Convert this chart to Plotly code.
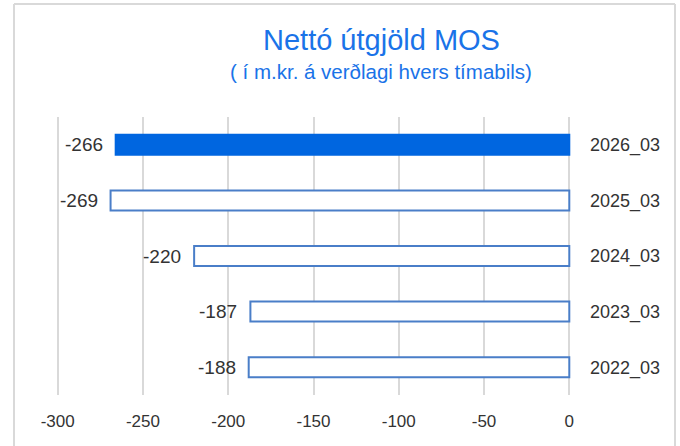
import plotly.graph_objects as go

categories = ["2022_03", "2023_03", "2024_03", "2025_03", "2026_03"]
values = [-188, -187, -220, -269, -266]
labels = ["-188", "-187", "-220", "-269", "-266"]
x_ticks = [-300, -250, -200, -150, -100, -50, 0]

fill_colors = ["white", "white", "white", "white", "#0066E0"]
line_colors = ["#4A7EC8", "#4A7EC8", "#4A7EC8", "#4A7EC8", "#0066E0"]

FONT = "Liberation Sans"

fig = go.Figure()
fig.add_trace(go.Bar(
    x=values, y=categories, orientation="h",
    marker=dict(color=fill_colors, line=dict(color=line_colors, width=2)),
    width=0.36,
    hoverinfo="skip",
))

L, R, T, B = 56, 109, 117, 51
W, H = 680, 446
pw = W - L - R
ph = H - T - B

def px(x):
    return (x - L) / pw

def py(y):
    return (H - B - y) / ph

annotations = [
    dict(x=v, y=c, xref="x", yref="y", text=t, showarrow=False,
         xanchor="right", yanchor="middle", xshift=-11,
         font=dict(family=FONT, size=19, color="#333333"))
    for v, c, t in zip(values, categories, labels)
]
annotations += [
    dict(text="Nettó útgjöld MOS", x=px(381), y=py(40), xref="paper", yref="paper",
         xanchor="center", yanchor="middle", showarrow=False,
         font=dict(family=FONT, size=29, color="#1A73E8")),
    dict(text="( í m.kr. á verðlagi hvers tímabils)", x=px(381), y=py(72),
         xref="paper", yref="paper", xanchor="center", yanchor="middle",
         showarrow=False, font=dict(family=FONT, size=20.5, color="#1A73E8")),
]

border = dict(color="#D9D9D9", width=2)

fig.update_layout(
    width=W, height=H,
    margin=dict(l=L, r=R, t=T, b=B),
    paper_bgcolor="white", plot_bgcolor="white",
    showlegend=False,
    font=dict(family=FONT, color="#333333"),
    xaxis=dict(
        range=[-301, 1], tickvals=x_ticks, ticktext=[str(v) for v in x_ticks],
        showgrid=True, gridcolor="#D9D9D9", gridwidth=2,
        zeroline=False, showline=False, ticks="",
        tickfont=dict(family=FONT, size=17, color="#333333"),
        ticklabelstandoff=14, fixedrange=True,
    ),
    yaxis=dict(
        side="right", showgrid=False, zeroline=False, showline=False, ticks="",
        categoryorder="array", categoryarray=categories,
        tickfont=dict(family=FONT, size=18, color="#333333"),
        ticklabelstandoff=18, fixedrange=True,
    ),
    annotations=annotations,
    shapes=[
        dict(type="line", xref="paper", yref="paper", x0=px(14), x1=px(675), y0=py(4), y1=py(4), line=border),
        dict(type="line", xref="paper", yref="paper", x0=px(14), x1=px(14), y0=py(4), y1=py(460), line=border),
        dict(type="line", xref="paper", yref="paper", x0=px(675), x1=px(675), y0=py(4), y1=py(460), line=border),
    ],
)

fig.write_html("out.html", config={"displayModeBar": False},
               post_script="document.body.style.margin='0';document.body.style.overflow='hidden';")
